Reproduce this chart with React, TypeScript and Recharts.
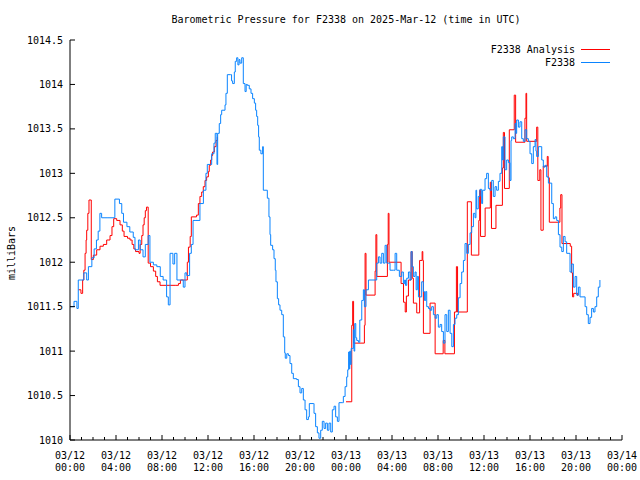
import React from 'react';
import { LineChart, Line, XAxis, YAxis } from 'recharts';

// Hours since 2025-03-12 00:00 UTC and pressure (mb) for the observed series
const blueHours = [
  0.0, 0.35, 0.6, 0.72, 1.2, 1.45, 1.6, 1.9, 2.1, 2.3, 2.45, 2.6, 2.75, 3.3, 3.9, 4.3, 4.5, 4.65, 4.95, 5.2,
  5.5, 5.65, 5.95, 6.1, 6.35, 6.55, 6.8, 6.95, 7.25, 7.55, 7.85, 8.1, 8.4, 8.55, 8.7, 8.95, 9.1, 9.3, 9.6, 9.85,
  10.0, 10.15, 10.4, 10.55, 10.7, 10.95, 11.3, 11.6, 11.82, 11.94, 12.23, 12.32, 12.52, 12.63, 12.78, 12.84, 12.98, 13.1, 13.19, 13.48,
  13.56, 13.68, 13.97, 14.05, 14.14, 14.29, 14.37, 14.49, 14.6, 14.7, 14.78, 14.93, 15.07, 15.22, 15.32, 15.42, 15.59, 15.74, 15.88, 16.03,
  16.14, 16.23, 16.32, 16.4, 16.46, 16.6, 16.75, 16.81, 17.16, 17.3, 17.39, 17.45, 17.62, 17.74, 17.85, 17.91, 18.03, 18.14, 18.26, 18.41,
  18.55, 18.67, 18.72, 18.85, 18.99, 19.13, 19.28, 19.42, 19.71, 19.86, 20.0, 20.15, 20.29, 20.44, 20.58, 20.73, 20.81, 21.16, 21.22, 21.36,
  21.51, 21.65, 21.8, 21.94, 22.09, 22.23, 22.38, 22.52, 22.67, 22.81, 22.96, 23.1, 23.25, 23.39, 23.68, 23.77, 23.92, 24.06, 24.15, 24.23,
  24.28, 24.33, 24.38, 24.45, 24.55, 24.64, 24.7, 24.76, 24.85, 24.93, 25.08, 25.2, 25.37, 25.51, 25.6, 25.74, 25.95, 26.53, 26.67, 26.82,
  26.96, 27.11, 27.25, 27.4, 27.54, 27.83, 28.12, 28.27, 28.41, 28.64, 28.85, 28.99, 29.1, 29.17, 29.28, 29.43, 29.57, 29.66, 29.75, 29.86,
  30.0, 30.1, 30.2, 30.3, 30.44, 30.58, 30.73, 30.82, 30.93, 31.02, 31.17, 31.31, 31.45, 31.6, 31.75, 31.89, 32.03, 32.18, 32.32, 32.47,
  32.61, 32.76, 32.9, 33.05, 33.2, 33.34, 33.48, 33.63, 33.77, 33.92, 34.06, 34.21, 34.35, 34.5, 34.64, 34.79, 34.93, 35.08, 35.22, 35.3,
  35.36, 35.5, 35.65, 35.8, 35.88, 36.09, 36.23, 36.38, 36.52, 36.67, 36.81, 36.96, 37.1, 37.25, 37.39, 37.54, 37.62, 37.68, 37.83, 37.97,
  38.12, 38.26, 38.35, 38.41, 38.55, 38.7, 38.78, 38.84, 38.99, 39.13, 39.28, 39.42, 39.57, 39.71, 39.86, 40.0, 40.15, 40.29, 40.44, 40.52,
  40.58, 40.73, 41.02, 41.16, 41.31, 41.45, 41.6, 41.89, 42.03, 42.18, 42.32, 42.47, 42.61, 42.76, 42.9, 43.05, 43.19, 43.48, 43.63, 43.77,
  43.92, 44.06, 44.21, 44.35, 44.79, 44.93, 45.07, 45.22, 45.36, 45.51, 45.65, 45.8, 45.94, 46.08,
];
const blueValues = [
  1011.5, 1011.56, 1011.48, 1011.8, 1011.88, 1011.8, 1011.95, 1012.05, 1012.15, 1012.25, 1012.35, 1012.55, 1012.5, 1012.5, 1012.71, 1012.66, 1012.55, 1012.45, 1012.4, 1012.34,
  1012.28, 1012.14, 1012.25, 1012.14, 1012.06, 1012.2, 1012.3, 1012.0, 1011.97, 1011.95, 1011.84, 1011.8, 1011.61, 1011.52, 1012.1, 1011.98, 1012.1, 1011.8, 1011.8, 1011.72,
  1011.88, 1011.85, 1012.1, 1012.2, 1012.47, 1012.47, 1012.66, 1012.81, 1013.0, 1013.1, 1013.1, 1013.22, 1013.34, 1013.45, 1013.1, 1013.45, 1013.56, 1013.66, 1013.71, 1013.77,
  1013.9, 1014.11, 1014.11, 1014.04, 1014.01, 1014.14, 1014.26, 1014.3, 1014.22, 1014.28, 1014.24, 1014.3, 1014.01, 1013.92, 1014.0, 1013.99, 1013.95, 1013.9, 1013.84, 1013.79,
  1013.71, 1013.64, 1013.54, 1013.41, 1013.26, 1013.22, 1013.3, 1012.81, 1012.72, 1012.51, 1012.31, 1012.19, 1012.14, 1012.04, 1011.91, 1011.78, 1011.59, 1011.52, 1011.46, 1011.41,
  1011.16, 1010.98, 1010.92, 1010.97, 1010.95, 1010.86, 1010.75, 1010.69, 1010.68, 1010.6, 1010.53, 1010.58, 1010.45, 1010.34, 1010.23, 1010.26, 1010.41, 1010.41, 1010.3, 1010.15,
  1010.08, 1010.02, 1010.11, 1010.21, 1010.13, 1010.19, 1010.11, 1010.19, 1010.09, 1010.34, 1010.38, 1010.26, 1010.21, 1010.42, 1010.42, 1010.49, 1010.6, 1010.71, 1010.79, 1010.99,
  1010.8, 1011.0, 1010.85, 1011.03, 1011.03, 1011.24, 1011.0, 1011.31, 1011.15, 1011.12, 1011.1, 1011.35, 1011.57, 1011.69, 1011.5, 1011.69, 1011.8, 1011.8, 1011.99, 1012.06,
  1011.99, 1012.1, 1011.99, 1012.19, 1011.99, 1011.91, 1011.91, 1012.1, 1011.91, 1011.84, 1011.89, 1011.76, 1011.8, 1011.74, 1011.82, 1011.89, 1011.8, 1012.12, 1011.95, 1011.84,
  1011.89, 1011.69, 1011.84, 1011.61, 1011.61, 1011.78, 1011.67, 1011.57, 1011.67, 1011.5, 1011.48, 1011.46, 1011.5, 1011.41, 1011.37, 1011.41, 1011.27, 1011.3, 1011.22, 1011.09,
  1011.41, 1011.22, 1011.46, 1011.2, 1011.05, 1011.3, 1011.37, 1011.41, 1011.6, 1011.76, 1011.89, 1012.02, 1012.21, 1012.1, 1012.2, 1012.33, 1012.4, 1012.55, 1012.5, 1012.81,
  1012.6, 1012.74, 1012.82, 1012.66, 1012.81, 1012.94, 1013.0, 1012.83, 1012.81, 1012.92, 1012.74, 1012.85, 1012.81, 1012.91, 1013.0, 1013.3, 1013.15, 1013.41, 1013.04, 1013.15,
  1013.12, 1012.92, 1013.37, 1013.41, 1013.39, 1013.56, 1013.45, 1013.6, 1013.52, 1013.58, 1013.39, 1013.36, 1013.49, 1013.39, 1013.36, 1013.22, 1013.11, 1013.3, 1013.38, 1013.25,
  1013.19, 1013.3, 1013.15, 1013.07, 1013.09, 1012.96, 1012.89, 1012.66, 1012.49, 1012.51, 1012.47, 1012.31, 1012.17, 1012.12, 1012.29, 1012.23, 1012.1, 1011.89, 1011.98, 1011.72,
  1011.84, 1011.63, 1011.72, 1011.61, 1011.5, 1011.41, 1011.31, 1011.38, 1011.48, 1011.44, 1011.5, 1011.61, 1011.72, 1011.8,
];

// Analysis series (null = gap)
const redHours = [
  0.73, 0.95, 1.1, 1.2, 1.31, 1.4, 1.45, 1.55, 1.65, 1.85, 2.03, 2.32, 2.61, 2.9, 3.19, 3.48, 3.65, 3.8, 4.06, 4.35,
  4.55, 4.7, 5.0, 5.22, 5.4, 5.55, 5.7, 6.0, 6.1, 6.24, 6.35, 6.45, 6.55, 6.65, 6.8, 7.0, 7.25, 7.45, 7.6, 7.83,
  9.14, 9.43, 9.6, 10.1, 10.2, 10.3, 10.45, 10.55, 11.0, 11.16, 11.3, 11.45, 11.59, 11.74, 11.88, 12.03, 12.11, 12.23, 12.32, 12.4,
  12.55, 12.7, 12.81, 12.9,
  24.0, 24.5, 24.58, 24.66, 25.6, 25.66, 25.74, 26.53, 26.6, 26.68, 27.6, 27.67, 27.74, 28.79, 29.0, 29.15, 29.25, 29.43, 29.66, 29.76,
  29.86, 30.15, 30.4, 30.62, 30.68, 30.73, 31.31, 31.75, 32.45, 32.6, 33.43, 33.6, 33.7, 34.55, 34.9, 35.55, 35.62, 35.7, 36.1, 36.55,
  36.65, 37.04, 37.6, 37.68, 37.78, 38.2, 38.63, 38.75, 39.56, 39.65, 39.71, 40.58, 40.68, 40.85, 40.95, 41.15, 41.5, 41.58, 41.68, 42.6,
  42.67, 42.78, 43.5, 43.62, 43.7, 43.8, 44.15,
];
const redValues: (number | null)[] = [
  1011.69, 1011.65, 1011.8, 1011.91, 1012.1, 1012.25, 1012.36, 1012.55, 1012.7, 1012.03, 1012.08, 1012.14, 1012.18, 1012.2, 1012.25, 1012.3, 1012.4, 1012.49, 1012.47, 1012.42,
  1012.35, 1012.29, 1012.27, 1012.25, 1012.2, 1012.15, 1012.12, 1012.1, 1012.2, 1012.3, 1012.42, 1012.5, 1012.58, 1012.62, 1011.99, 1011.95, 1011.9, 1011.84, 1011.78, 1011.74,
  1011.74, 1011.76, 1011.8, 1011.8, 1012.0, 1012.17, 1012.29, 1012.51, 1012.53, 1012.66, 1012.74, 1012.79, 1012.85, 1012.92, 1012.96, 1013.02, 1013.09, 1013.15, 1013.2, 1013.24,
  1013.3, 1013.37, 1013.41, null,
  1010.43, 1011.29, 1011.56, 1011.09, 1011.29, 1012.1, 1011.63, 1011.9, 1012.31, 1011.84, 1012.2, 1012.55, 1012.0, 1011.76, 1011.55, 1011.44, 1011.62, 1011.8, 1012.12, 1011.82,
  1011.54, 1011.43, 1012.02, 1012.12, 1012.02, 1011.2, 1011.54, 1010.97, 1011.12, 1010.97, 1011.44, 1011.95, 1011.44, 1012.68, 1012.08, 1012.47, 1012.81, 1012.29, 1012.61, 1012.9,
  1012.38, 1012.64, 1013.06, 1013.46, 1012.83, 1013.49, 1013.88, 1013.35, 1013.62, 1013.9, 1013.36, 1013.52, 1012.92, 1013.04, 1012.36, 1013.08, 1013.19, 1012.95, 1012.45, 1012.61,
  1012.76, 1012.21, 1012.18, 1011.88, 1011.61, 1011.65, 1011.62,
];

const xTickHours = [0, 1, 2, 3, 4, 5, 6, 7, 8, 9, 10, 11, 12, 13, 14, 15, 16, 17, 18, 19, 20, 21, 22, 23, 24,
  25, 26, 27, 28, 29, 30, 31, 32, 33, 34, 35, 36, 37, 38, 39, 40, 41, 42, 43, 44, 45, 46, 47, 48];
const xMajorHours = [0, 4, 8, 12, 16, 20, 24, 28, 32, 36, 40, 44, 48];
const xTickDates = ['03/12', '03/12', '03/12', '03/12', '03/12', '03/12', '03/13', '03/13', '03/13', '03/13', '03/13', '03/13', '03/14'];
const xTickTimes = ['00:00', '04:00', '08:00', '12:00', '16:00', '20:00', '00:00', '04:00', '08:00', '12:00', '16:00', '20:00', '00:00'];
const yTicks = [1010, 1010.5, 1011, 1011.5, 1012, 1012.5, 1013, 1013.5, 1014, 1014.5];
const yTickLabels = ['1010', '1010.5', '1011', '1011.5', '1012', '1012.5', '1013', '1013.5', '1014', '1014.5'];

const titleText = 'Barometric Pressure for F2338 on 2025-Mar-12 (time in UTC)';
const yLabelText = 'milliBars';
const seriesNames = ['F2338 Analysis', 'F2338'];
const RED = '#ff0000';
const BLUE = '#0a84ff';

const FONT = { fontFamily: "'DejaVu Sans Mono', 'Liberation Mono', monospace", fontSize: 10, fill: '#000' };

const blueData = blueHours.map((t, i) => ({ t, v: blueValues[i] }));
const redData = redHours.map((t, i) => ({ t, v: redValues[i] }));

const BottomTick = (props: any) => {
  const { x, y, payload } = props;
  const idx = xMajorHours.indexOf(payload.value);
  const major = idx >= 0;
  return (
    <g>
      <line x1={x} x2={x} y1={y} y2={y - (major ? 5 : 3)} stroke="#000" strokeWidth={1} />
      {major && (
        <text x={x} y={y + 19} textAnchor="middle" style={FONT}>{xTickDates[idx]}</text>
      )}
      {major && (
        <text x={x} y={y + 31} textAnchor="middle" style={FONT}>{xTickTimes[idx]}</text>
      )}
    </g>
  );
};

const TopTick = (props: any) => {
  const { x, y, payload } = props;
  const major = xMajorHours.indexOf(payload.value) >= 0;
  return <line x1={x} x2={x} y1={y} y2={y + (major ? 5 : 3)} stroke="#000" strokeWidth={1} />;
};

const LeftTick = (props: any) => {
  const { x, y, payload } = props;
  const idx = yTicks.indexOf(payload.value);
  return (
    <g>
      <line x1={x} x2={x + 5} y1={y} y2={y} stroke="#000" strokeWidth={1} />
      <text x={x - 7} y={y + 3.5} textAnchor="end" style={FONT}>{yTickLabels[idx]}</text>
    </g>
  );
};

const RightTick = (props: any) => {
  const { x, y } = props;
  return <line x1={x} x2={x - 5} y1={y} y2={y} stroke="#000" strokeWidth={1} />;
};

export default function App() {
  return (
    <div style={{ position: 'absolute', left: 0, top: 0, width: 640, height: 480, background: '#fff' }}>
      <LineChart width={640} height={480} margin={{ top: 40, right: 18, bottom: 0, left: 0 }}>
        <XAxis xAxisId="bottom" type="number" dataKey="t" domain={[0, 48]} ticks={xTickHours} interval={0}
          allowDataOverflow height={40} tickSize={0} tickMargin={0} tickLine={false}
          axisLine={{ stroke: '#000', strokeWidth: 1 }} tick={<BottomTick />} />
        <XAxis xAxisId="top" orientation="top" type="number" dataKey="t" domain={[0, 48]} ticks={xTickHours} interval={0}
          allowDataOverflow height={0} tickSize={0} tickMargin={0} tickLine={false}
          axisLine={{ stroke: '#000', strokeWidth: 1 }} tick={<TopTick />} />
        <YAxis yAxisId="left" type="number" domain={[1010, 1014.5]} ticks={yTicks} interval={0}
          allowDataOverflow width={70} tickSize={0} tickMargin={0} tickLine={false}
          axisLine={{ stroke: '#000', strokeWidth: 1 }} tick={<LeftTick />} />
        <YAxis yAxisId="right" orientation="right" type="number" domain={[1010, 1014.5]} ticks={yTicks} interval={0}
          allowDataOverflow width={0} tickSize={0} tickMargin={0} tickLine={false}
          axisLine={{ stroke: '#000', strokeWidth: 1 }} tick={<RightTick />} />
        <Line xAxisId="bottom" yAxisId="left" data={redData} dataKey="v" type="stepAfter" stroke={RED}
          strokeWidth={1} dot={false} activeDot={false} connectNulls={false} isAnimationActive={false} />
        <Line xAxisId="bottom" yAxisId="left" data={blueData} dataKey="v" type="stepAfter" stroke={BLUE}
          strokeWidth={1} dot={false} activeDot={false} isAnimationActive={false} />
      </LineChart>
      <svg width={640} height={480} style={{ position: 'absolute', left: 0, top: 0, pointerEvents: 'none' }}>
        <text x={346} y={23} textAnchor="middle" style={FONT}>{titleText}</text>
        <text x={15} y={253} textAnchor="middle" transform="rotate(-90 15 253)" style={FONT}>{yLabelText}</text>
        <text x={575} y={53} textAnchor="end" style={FONT}>{seriesNames[0]}</text>
        <line x1={581} x2={610} y1={49.5} y2={49.5} stroke={RED} strokeWidth={1} />
        <text x={575} y={66} textAnchor="end" style={FONT}>{seriesNames[1]}</text>
        <line x1={581} x2={610} y1={62.5} y2={62.5} stroke={BLUE} strokeWidth={1} />
      </svg>
    </div>
  );
}
